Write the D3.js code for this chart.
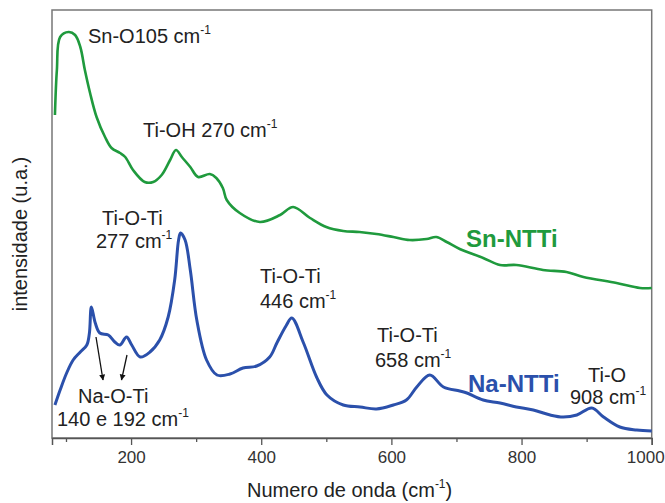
<!DOCTYPE html>
<html>
<head>
<meta charset="utf-8">
<script src="https://cdn.jsdelivr.net/npm/d3@7"></script>
<style>
  html, body { margin: 0; padding: 0; background: #fff; }
  svg { display: block; font-family: Arial, "Liberation Sans", sans-serif; }
</style>
</head>
<body>
<svg id="chart" width="665" height="503"></svg>
<script>
// ---- Data ----
const waveSn = [83, 86, 91, 104, 114, 122, 129, 137, 147, 160, 170, 183, 191, 203, 221, 234, 247, 260, 269, 278, 291, 303, 321, 331, 341, 347, 367, 398, 429, 449, 475, 500, 526, 551, 577, 603, 628, 654, 669, 685, 705, 741, 767, 792, 833, 869, 895, 946, 982, 1000];
const intSn  = [323, 368, 401, 406, 403, 391, 368, 345, 321, 301, 290, 285, 281, 268, 256, 256, 263, 278, 288, 281, 271, 261, 264, 260, 250, 238, 225, 216, 223, 231, 220, 211, 207, 206, 204, 201, 198, 199, 201, 196, 189, 180, 173, 173, 168, 166, 161, 155, 150, 150];

const waveNa = [83, 91, 101, 111, 122, 132, 136, 139, 145, 152, 165, 175, 183, 193, 201, 214, 229, 244, 257, 267, 273, 276, 283, 291, 301, 316, 332, 352, 372, 393, 413, 424, 438, 447, 465, 485, 501, 526, 552, 577, 603, 623, 639, 659, 680, 705, 716, 741, 767, 792, 818, 844, 864, 885, 908, 926, 951, 977, 1000];
const intNa  = [33, 48, 65, 78, 86, 93, 105, 131, 115, 105, 103, 96, 93, 101, 93, 81, 86, 98, 121, 158, 198, 205, 198, 168, 118, 78, 63, 64, 70, 72, 81, 95, 112, 120, 95, 61, 43, 33, 31, 29, 33, 38, 51, 63, 51, 47, 45, 38, 35, 31, 28, 23, 21, 23, 30, 21, 11, 8, 7];

const majorTicks = [200, 400, 600, 800, 1000];
const minorTicks = [100, 300, 500, 700, 900];
const seriesNames = ["Sn-NTTi", "Na-NTTi"];
const xTitle = "Numero de onda (cm";
const yTitle = "intensidade (u.a.)";

// ---- Layout ----
const L = 52, R = 651.7, T = 10, B = 438;
const svg = d3.select("#chart");
const x = d3.scaleLinear().domain([78.5, 1000]).range([L, R]);
const y = d3.scaleLinear().domain([0, 428]).range([B, T]);

const green = "#1f9a3d", blue = "#2b50ab", txt = "#222";

// Frame
svg.append("rect").attr("x", L).attr("y", T).attr("width", R - L).attr("height", B - T)
  .attr("fill", "none").attr("stroke", "#777").attr("stroke-width", 1.5);

// X axis
const xAxis = d3.axisBottom(x).tickValues(majorTicks).tickSize(7).tickPadding(6).tickFormat(d3.format("d"));
const gx = svg.append("g").attr("transform", `translate(0,${B})`).call(xAxis);
gx.select(".domain").attr("stroke", "#555").attr("stroke-width", 1.5);
gx.selectAll(".tick line").attr("stroke", "#555").attr("stroke-width", 1.3);
gx.selectAll(".tick text").attr("fill", "#333").style("font-size", "17px")
  .style("font-family", "Arial, 'Liberation Sans', sans-serif");
// last label sits flush against the right edge of the picture
gx.selectAll(".tick text").filter(d => d === 1000).attr("text-anchor", "end").attr("x", 12.5);
const gxm = svg.append("g").attr("transform", `translate(0,${B})`)
  .call(d3.axisBottom(x).tickValues(minorTicks).tickSize(4).tickFormat(""));
gxm.select(".domain").remove();
gxm.selectAll(".tick line").attr("stroke", "#555").attr("stroke-width", 1.3);

// Lines
const line = (xs, ys) => d3.line().curve(d3.curveCatmullRom.alpha(0.5))
  .x((d, i) => x(xs[i])).y((d, i) => y(ys[i]))(xs);
svg.append("path").attr("d", line(waveSn, intSn)).attr("fill", "none")
  .attr("stroke", green).attr("stroke-width", 2.6).attr("stroke-linejoin", "round");
svg.append("path").attr("d", line(waveNa, intNa)).attr("fill", "none")
  .attr("stroke", blue).attr("stroke-width", 3).attr("stroke-linejoin", "round");

// Text helper with superscript
function label(px, py, main, sup, opts = {}) {
  const t = svg.append("text").attr("x", px).attr("y", py)
    .attr("fill", opts.fill || txt)
    .style("font-size", (opts.size || 20) + "px")
    .style("font-weight", opts.weight || "normal");
  t.append("tspan").text(main);
  if (sup) {
    t.append("tspan").attr("dy", -9).style("font-size", "12px").text(sup);
    if (opts.after) t.append("tspan").attr("dy", 9).text(opts.after);
  }
  return t;
}

label(88, 43, "Sn-O105 cm", "-1");
label(143, 137, "Ti-OH 270 cm", "-1");
label(102, 225, "Ti-O-Ti");
label(96, 248, "277 cm", "-1");
label(260, 283, "Ti-O-Ti");
label(260, 308, "446 cm", "-1");
label(377, 342, "Ti-O-Ti");
label(375, 367, "658 cm", "-1");
label(588, 382, "Ti-O");
label(570, 404, "908 cm", "-1");
label(78, 403, "Na-O-Ti");
label(57, 426, "140 e 192 cm", "-1");
label(466, 247, seriesNames[0], null, { fill: green, size: 24, weight: "bold" });
label(468, 392, seriesNames[1], null, { fill: blue, size: 24, weight: "bold" });

// Arrows
const defs = svg.append("defs");
defs.append("marker").attr("id", "ah").attr("viewBox", "0 0 10 10")
  .attr("refX", 9).attr("refY", 5).attr("markerWidth", 6).attr("markerHeight", 8)
  .attr("markerUnits", "userSpaceOnUse").attr("orient", "auto")
  .append("path").attr("d", "M0,0 L10,5 L0,10 Z").attr("fill", "#111");
const arrows = [[96, 337, 103, 380], [127, 355, 121.5, 380]];
svg.selectAll(".arr").data(arrows).enter().append("line")
  .attr("x1", d => d[0]).attr("y1", d => d[1]).attr("x2", d => d[2]).attr("y2", d => d[3])
  .attr("stroke", "#111").attr("stroke-width", 1.3).attr("marker-end", "url(#ah)");

// Axis titles
label(247, 497, xTitle, "-1", { after: ")" });
svg.append("text").attr("transform", "translate(27,234) rotate(-90)")
  .attr("text-anchor", "middle").attr("fill", txt).style("font-size", "20px").text(yTitle);
</script>
</body>
</html>
